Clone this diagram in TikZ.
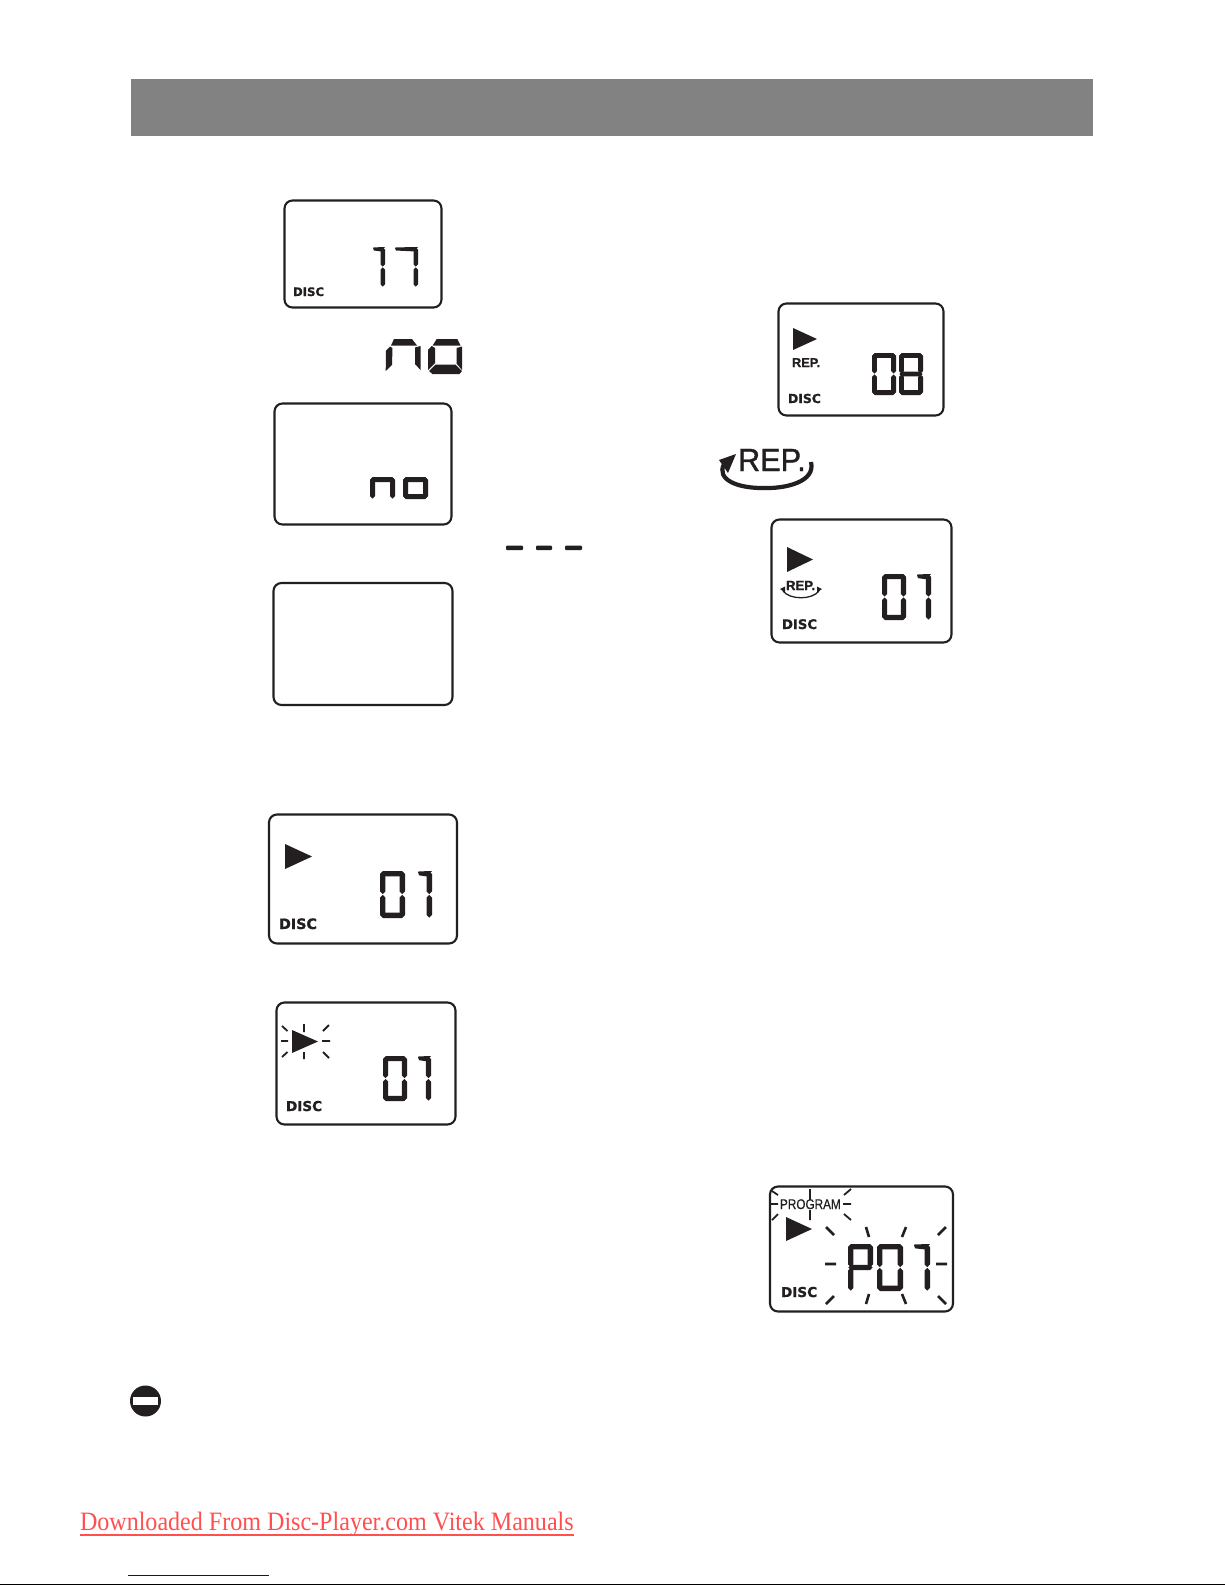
\documentclass[tikz,border=0pt]{standalone}
\usepackage{fontspec}
\setmainfont{Liberation Serif}
\newfontfamily\arialf[BoldFeatures={FakeBold=1.1}]{Liberation Sans}
\newfontfamily\arialm[FakeBold=0.6]{Liberation Sans}
\newfontfamily\arialk[FakeBold=1.2]{Liberation Sans}
\newfontfamily\dejaf[BoldFeatures={FakeBold=1.1}]{DejaVu Sans}
\definecolor{ink}{HTML}{231F20}
\definecolor{bargrey}{HTML}{828282}
\definecolor{linkred}{HTML}{FF4F4F}
\definecolor{linkblue}{HTML}{0000E0}
\tikzset{
  lcd/.style={draw=ink,line width=2.1pt,rounded corners=8pt,fill=white,inner sep=0pt},
  label/.style={inner sep=0pt,outer sep=0pt,anchor=base west,text=ink},
  ray/.style={draw=ink,line width=1.8pt},
  bigray/.style={draw=ink,line width=2.6pt},
}
% seven-segment pieces; \dx \dy left/top, \dw \dh size, \dt thickness
\def\Hseg#1#2#3{\fill[ink] ({#1},{#3})--({#1+\dt/2},{#3-\dt/2})--({#2-\dt/2},{#3-\dt/2})--({#2},{#3})--({#2-\dt/2},{#3+\dt/2})--({#1+\dt/2},{#3+\dt/2})--cycle;}
\def\Vseg#1#2#3{\fill[ink] ({#3},{#1})--({#3+\dt/2},{#1+\dt/2})--({#3+\dt/2},{#2-\dt/2})--({#3},{#2})--({#3-\dt/2},{#2-\dt/2})--({#3-\dt/2},{#1+\dt/2})--cycle;}
\def\sga{\Hseg{\dx+.4}{\dx+\dw-.4}{\dy+\dt/2}}
\def\sgd{\Hseg{\dx+.4}{\dx+\dw-.4}{\dy+\dh-\dt/2}}
\def\sgg{\Hseg{\dx+.4}{\dx+\dw-.4}{\dy+\dh/2}}
\def\sgb{\Vseg{\dy+.4}{\dy+\dh/2-.4}{\dx+\dw-\dt/2}}
\def\sgc{\Vseg{\dy+\dh/2+.4}{\dy+\dh-.4}{\dx+\dw-\dt/2}}
\def\sgf{\Vseg{\dy+.4}{\dy+\dh/2-.4}{\dx+\dt/2}}
\def\sge{\Vseg{\dy+\dh/2+.4}{\dy+\dh-.4}{\dx+\dt/2}}
\def\sgl{\Vseg{\dy+.4}{\dy+\dh-.4}{\dx+\dt/2}}
\def\sgr{\Vseg{\dy+.4}{\dy+\dh-.4}{\dx+\dw-\dt/2}}
\def\sgk{\fill[ink] ({\dx},{\dy+1})--({\dx+1},{\dy+.4})--({\dx+\dw},{\dy})--({\dx+\dw-\dt},{\dy+\dt})--({\dx+1},{\dy+\dt*.8})--cycle;}
\newcommand\dig[6]{\def\dx{#1}\def\dy{#2}\def\dw{#3}\def\dh{#4}\def\dt{#5}\foreach \s in {#6}{\csname sg\s\endcsname}}
\newcommand\play[4]{\fill[ink] (#1,#3)--(#2,{(#3+#4)/2})--(#1,#4)--cycle;}
\newcommand\disc[5]{\node[label] (#1) at (#2,#3) {\dejaf\bfseries\fontsize{#4}{#4}\selectfont DISC};}
\begin{document}
\begin{tikzpicture}[x=1pt,y=-1pt]
\useasboundingbox (0,0) rectangle (1225,1585);
\fill[white] (0,0) rectangle (1225,1585);
% header bar
\node[fill=bargrey,inner sep=0pt,minimum width=962pt,minimum height=57pt] (bar) at (612,107.5) {};
% left column displays
\node[lcd,minimum width=157pt,minimum height=107pt] (boxA) at (363,254) {};
\dig{373}{247}{12}{40}{4.4}{k,b,c}
\dig{395}{247}{23}{40}{4.4}{k,b,c}
\disc{discA}{293}{296}{11.7}{}
% big "no"
\fill[ink] (391,345.5)--(394,339)--(412,339)--(417,345.5)--cycle;
\fill[ink] (386,350.7)--(390,346.5)--(392.5,348)--(392,365)--(385.7,371)--cycle;
\fill[ink] (415,347.5)--(420.5,346)--(420.5,370)--(415,364)--cycle;
\fill[ink] (432.7,345.5)--(436.7,339)--(457.3,339)--(460.5,345.5)--cycle;
\fill[ink] (428,350)--(431.7,346)--(435,348)--(435,363)--(428,370)--cycle;
\fill[ink] (462,346.5)--(462,370)--(456.5,363.5)--(456.5,348)--cycle;
\fill[ink] (429,371)--(435.5,364.5)--(455.5,364.5)--(462,371)--(459.5,374)--(432.5,374)--cycle;
\node[lcd,minimum width=177pt,minimum height=121pt] (boxB) at (363,464) {};
\dig{370}{477}{25}{22}{5}{a,l,r}
\dig{403}{477}{25}{22}{5}{a,d,l,r}
% dashes
\fill[ink,rounded corners=1pt] (506,545.5) rectangle (523,550);
\fill[ink,rounded corners=1pt] (536,545.5) rectangle (552,550);
\fill[ink,rounded corners=1pt] (565,545.5) rectangle (582,550);
\node[lcd,minimum width=179pt,minimum height=122pt] (boxC) at (363,644) {};
\node[lcd,minimum width=188pt,minimum height=129pt] (boxD) at (363,879) {};
\play{285}{312}{844}{869}
\dig{380}{871}{25}{47}{5.4}{a,b,c,d,e,f}
\dig{418}{871}{14}{47}{5.4}{k,b,c}
\disc{discD}{279}{929}{14.3}{}
\node[lcd,minimum width=179pt,minimum height=122pt] (boxE) at (366,1063.5) {};
\play{292}{318}{1030}{1053}
\draw[ray] (281,1041)--(288,1041) (322,1041)--(330,1041) (304,1024)--(304,1032) (304,1052)--(304,1059)
 (282,1026)--(287.5,1031) (323,1031)--(329,1025) (282,1057)--(287.5,1052) (323,1052)--(329,1058);
\dig{383}{1056}{24}{45}{5.2}{a,b,c,d,e,f}
\dig{418}{1056}{13}{45}{5.2}{k,b,c}
\disc{discE}{286}{1111}{13.6}{}
% right column displays
\node[lcd,minimum width=165pt,minimum height=112pt] (boxF) at (861,359.5) {};
\play{793}{817}{328}{350}
\node[label] (repF) at (792,367) {\arialf\bfseries\fontsize{12.8}{12.8}\selectfont REP.};
\dig{872}{353}{24}{42}{4.8}{a,b,c,d,e,f}
\dig{899}{353}{24}{42}{4.8}{a,b,c,d,e,f,g}
\disc{discF}{788}{403}{12.4}{}
% big REP symbol
\node[label] (repbig) at (738,471) {\scalebox{.96}[1]{\arialk\fontsize{32}{32}\selectfont REP.}};
\draw[ink,line width=4.2pt] (811,462) .. controls (816,482) and (785,489) .. (762,488) .. controls (738,488) and (716,480) .. (724,464);
\fill[ink] (736,454)--(719,460)--(728,473)--cycle;
\node[lcd,minimum width=180pt,minimum height=123pt] (boxG) at (861.5,581) {};
\play{787}{813}{547}{572}
\node[label] (repG) at (786,590) {\arialf\bfseries\fontsize{13.2}{13.2}\selectfont REP.};
\draw[ink,line width=1.3pt] (783,591) .. controls (790,600) and (812,600) .. (819,591);
\fill[ink] (780,589)--(785,586.5)--(785,592.5)--cycle;
\fill[ink] (822,589)--(817,586.5)--(817,592.5)--cycle;
\dig{882}{574}{24}{46}{5.2}{a,b,c,d,e,f}
\dig{917}{574}{14}{46}{5.2}{k,b,c}
\disc{discG}{782}{629}{13.2}{}
\node[lcd,minimum width=183pt,minimum height=125pt] (boxH) at (861.5,1249) {};
\node[label] (prog) at (780,1209) {\scalebox{.84}[1]{\arialm\fontsize{14}{14}\selectfont PROGRAM}};
\draw[ray] (770,1204)--(778,1204) (843,1204)--(851,1204) (810,1189)--(810,1200) (810,1210)--(810,1220)
 (772,1191)--(778,1195) (844,1195)--(851,1189) (772,1220)--(778,1214) (844,1214)--(851,1220);
\play{786}{812}{1217}{1241}
\dig{848}{1244}{25}{47}{5.4}{a,b,e,f,g}
\dig{877}{1244}{26}{47}{5.4}{a,b,c,d,e,f}
\dig{914}{1244}{16}{47}{5.4}{k,b,c}
\draw[bigray] (825,1264)--(836,1264) (936,1264)--(947,1264)
 (826,1227)--(834,1235) (866,1227)--(869,1237) (906,1227)--(902,1237) (946,1227)--(938,1235)
 (826,1304)--(834,1296) (866,1304)--(869,1294) (906,1304)--(902,1294) (946,1304)--(938,1296);
\disc{discH}{781}{1297}{13.6}{}
% warning icon
\fill[ink] (145.5,1401) circle (15.5);
\fill[white] (133,1397) rectangle (158,1405);
% footer
\node[label,text=linkred] (link) at (80,1530) {\scalebox{.908}[1]{\fontsize{26.5}{26.5}\selectfont Downloaded From Disc-Player.com Vitek Manuals}};
\fill[linkred] (80,1533.5) rectangle (574,1535.5);
\fill[linkblue] (128,1574.5) rectangle (269,1575.5);
\fill[black] (0,1583.5) rectangle (1225,1585);
\end{tikzpicture}
\end{document}
